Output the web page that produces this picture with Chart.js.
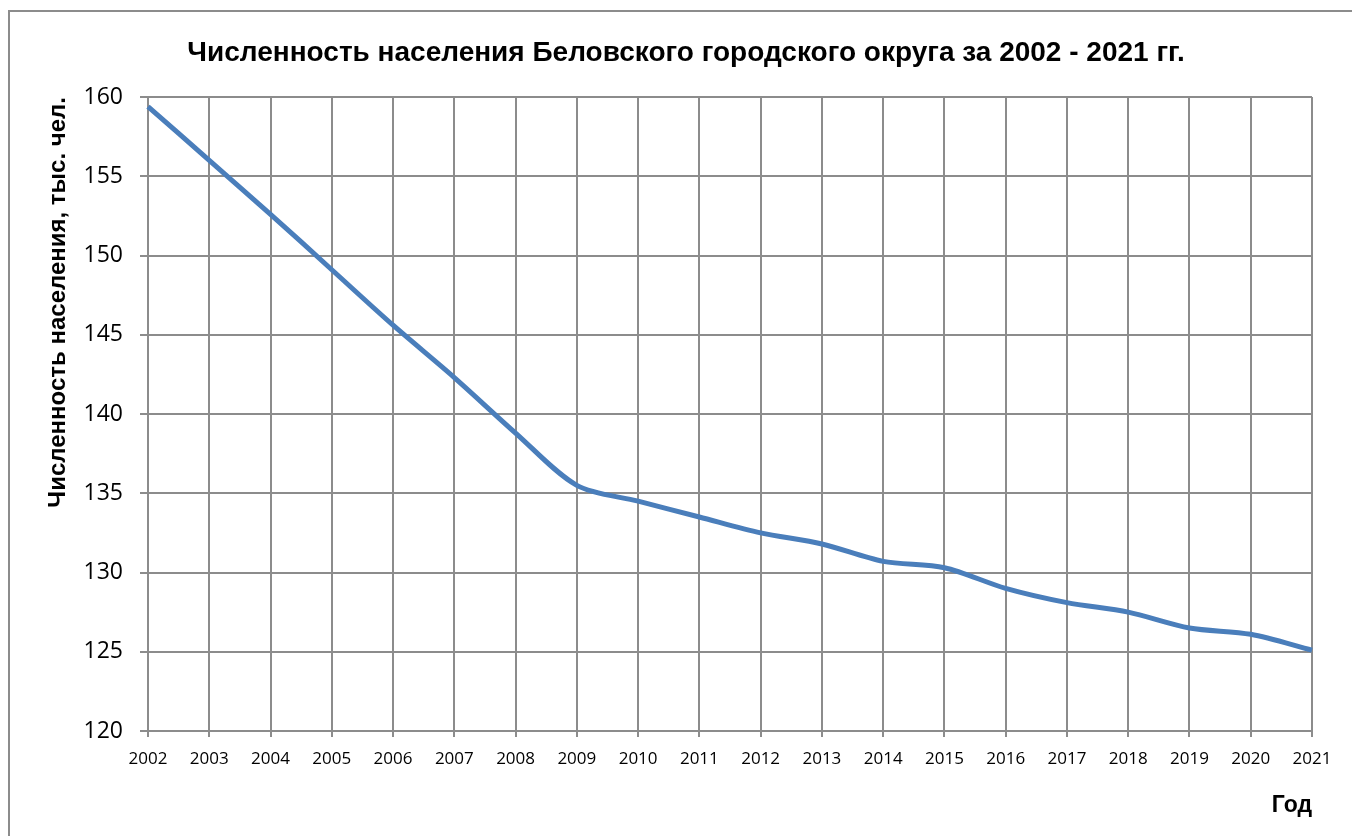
<!DOCTYPE html>
<html lang="ru">
<head>
<meta charset="utf-8">
<title>Численность населения Беловского городского округа</title>
<script src="https://cdn.jsdelivr.net/npm/chart.js@4.4.1/dist/chart.umd.min.js"></script>
<style>
    html, body { margin: 0; padding: 0; background: #ffffff; overflow: hidden; }
    #frame {
        position: absolute;
        left: 8px;
        top: 10px;
        width: 1400px;
        height: 900px;
        border: 2px solid #8c8c8c;
    }
    #populationChart { position: absolute; left: 0; top: 0; }
</style>
</head>
<body>
<div id="frame"></div>
<canvas id="populationChart" width="1352" height="836"></canvas>
<script>
const years = ['2002', '2003', '2004', '2005', '2006', '2007', '2008', '2009', '2010', '2011',
               '2012', '2013', '2014', '2015', '2016', '2017', '2018', '2019', '2020', '2021'];
const population = [159.4, 156.0, 152.6, 149.1, 145.6, 142.3, 138.8, 135.5, 134.5, 133.5,
                    132.5, 131.8, 130.7, 130.3, 129.0, 128.1, 127.5, 126.5, 126.1, 125.1];
const yMin = 120;
const yMax = 160;
const yStep = 5;

const GRID_COLOR = '#8c8c8c';

function initChart() {
    const ctx = document.getElementById('populationChart').getContext('2d');

    new Chart(ctx, {
        type: 'line',
        data: {
            labels: years,
            datasets: [
                {
                    label: 'Численность населения',
                    data: population,
                    borderColor: '#4a7ebb',
                    borderWidth: 5,
                    pointRadius: 0,
                    tension: 0.3,
                    fill: false
                }
            ]
        },
        options: {
            responsive: false,
            animation: false,
            layout: {
                // left padding shifts the title centre to match the original
                padding: { left: 60, right: 40, top: 0, bottom: 0 }
            },
            plugins: {
                legend: { display: false },
                tooltip: { enabled: false },
                title: {
                    display: true,
                    text: 'Численность населения Беловского городского округа за 2002 - 2021 гг.',
                    color: '#000000',
                    font: { family: '"Liberation Sans", Arial, sans-serif', size: 28, weight: 'bold', lineHeight: 1.2 },
                    padding: { top: 36.2, bottom: 27.2 }
                }
            },
            scales: {
                x: {
                    offset: false,
                    grid: {
                        color: GRID_COLOR,
                        lineWidth: 2,
                        tickLength: 6,
                        drawOnChartArea: true
                    },
                    border: { color: GRID_COLOR, width: 2 },
                    ticks: {
                        color: '#000000',
                        padding: 12,
                        maxRotation: 0,
                        autoSkip: false,
                        font: { family: '"Open Sans", sans-serif', size: 17 }
                    },
                    title: {
                        display: true,
                        text: 'Год',
                        align: 'end',
                        color: '#000000',
                        font: { family: '"Liberation Sans", Arial, sans-serif', size: 23, weight: 'bold', lineHeight: 1.2 },
                        padding: { top: 0, bottom: 17 }
                    },
                    afterFit: (scale) => { scale.height = 105; }
                },
                y: {
                    min: yMin,
                    max: yMax,
                    grid: {
                        color: GRID_COLOR,
                        lineWidth: 2,
                        tickLength: 8
                    },
                    border: { color: GRID_COLOR, width: 2 },
                    ticks: {
                        stepSize: yStep,
                        color: '#000000',
                        padding: 17,
                        font: { family: '"Open Sans", sans-serif', size: 23 }
                    },
                    title: {
                        display: true,
                        text: 'Численность населения, тыс. чел.',
                        align: 'end',
                        color: '#000000',
                        font: { family: '"Liberation Sans", Arial, sans-serif', size: 24, weight: 'bold', lineHeight: 1.2 },
                        padding: { top: -16.4, bottom: 0 }
                    },
                    afterFit: (scale) => { scale.width = 88; }
                }
            }
        }
    });
}

initChart();
</script>
</body>
</html>
